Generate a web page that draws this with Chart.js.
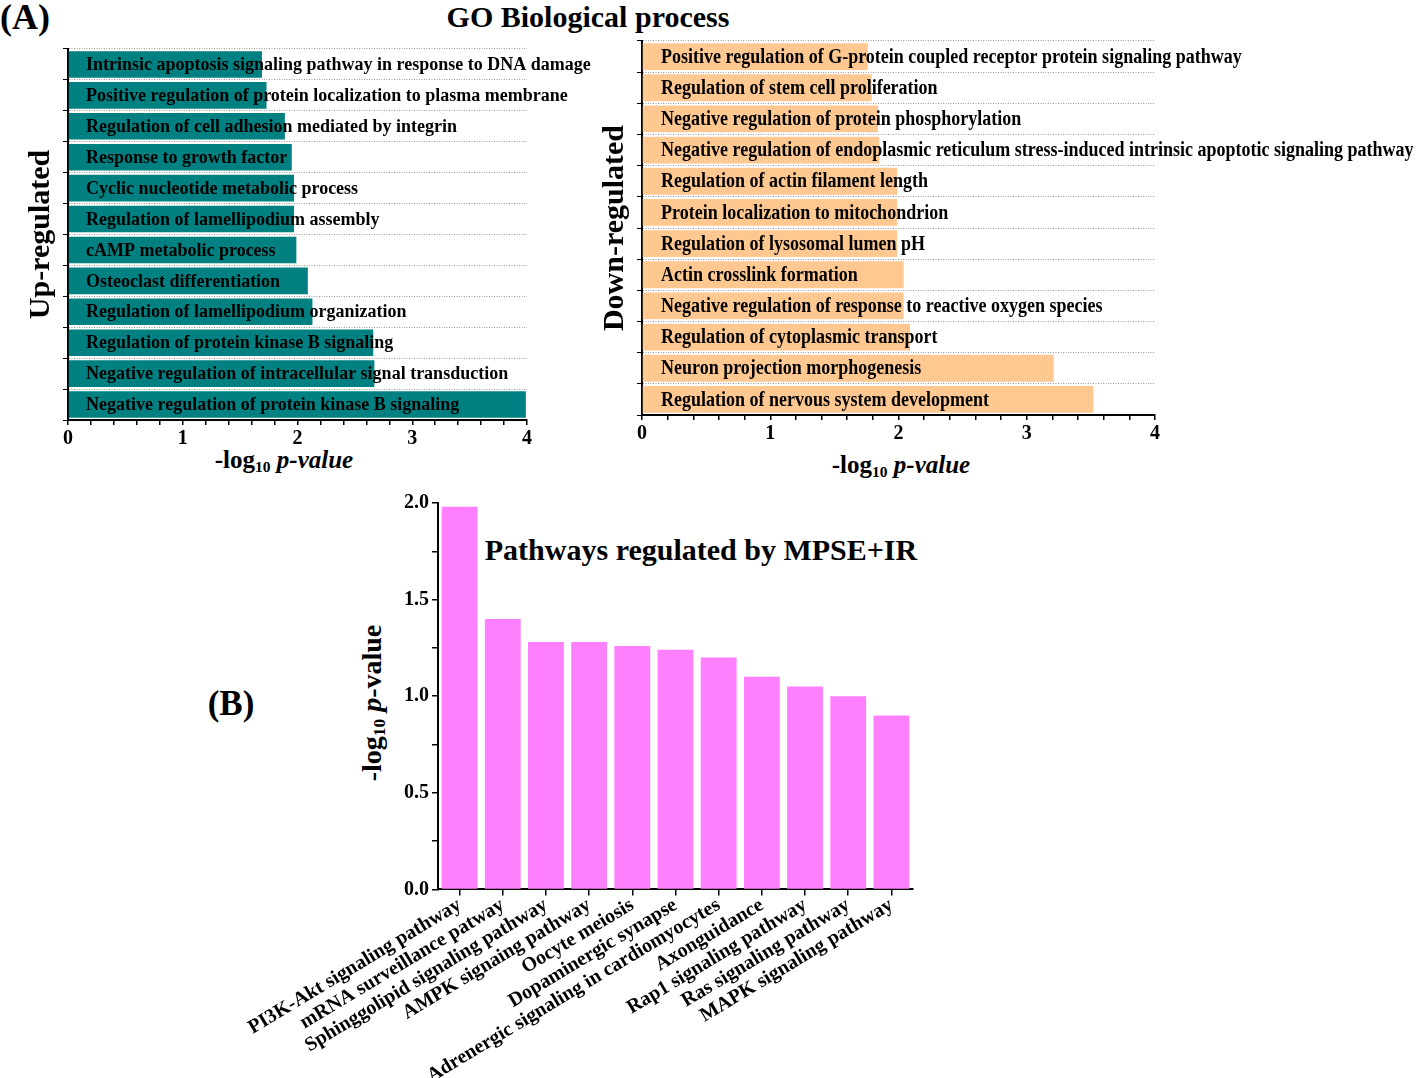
<!DOCTYPE html>
<html>
<head>
<meta charset="utf-8">
<script src="https://cdn.jsdelivr.net/npm/chart.js@4.4.0/dist/chart.umd.min.js"></script>
<style>
  body { margin:0; background:#fff; width:1418px; height:1078px; position:relative; overflow:hidden;
         font-family:"Liberation Serif","Times New Roman",serif; }
  canvas { position:absolute; }
  .txt { position:absolute; font-weight:bold; color:#000; white-space:nowrap; transform:translate(-50%,-50%); line-height:1; }
  .txt sub { font-size:0.62em; vertical-align:-0.25em; }
  .rot { transform:translate(-50%,-50%) rotate(-90deg); }
</style>
</head>
<body>
<div class="txt" style="left:25px;top:17px;font-size:36px">(A)</div>
<div class="txt" style="left:588px;top:17px;font-size:30px">GO Biological process</div>
<div class="txt" style="left:284px;top:461px;font-size:25px">-log<sub>10</sub> <i>p-value</i></div>
<div class="txt" style="left:901px;top:466px;font-size:25px">-log<sub>10</sub> <i>p-value</i></div>
<div class="txt" style="left:231px;top:703px;font-size:35px">(B)</div>
<div class="txt" style="left:701px;top:550px;font-size:30px">Pathways regulated by MPSE+IR</div>
<div class="txt rot" style="left:373px;top:703px;font-size:28px">-log<sub>10</sub> <i>p</i>-value</div>

<canvas id="upChart" width="600" height="457" style="left:0;top:0"></canvas>
<canvas id="downChart" width="838" height="452" style="left:580px;top:0"></canvas>
<canvas id="pathChart" width="740" height="606" style="left:200px;top:480px"></canvas>

<script>
// GO 上调
const upTerms = [
  'Intrinsic apoptosis signaling pathway in response to DNA damage',
  'Positive regulation of protein localization to plasma membrane',
  'Regulation of cell adhesion mediated by integrin',
  'Response to growth factor',
  'Cyclic nucleotide metabolic process',
  'Regulation of lamellipodium assembly',
  'cAMP metabolic process',
  'Osteoclast differentiation',
  'Regulation of lamellipodium organization',
  'Regulation of protein kinase B signaling',
  'Negative regulation of intracellular signal transduction',
  'Negative regulation of protein kinase B signaling'
];
const upValues = [1.69, 1.73, 1.89, 1.95, 1.97, 1.97, 1.99, 2.09, 2.13, 2.66, 2.67, 3.99];

// GO 下调
const downTerms = [
  'Positive regulation of G-protein coupled receptor protein signaling pathway',
  'Regulation of stem cell proliferation',
  'Negative regulation of protein phosphorylation',
  'Negative regulation of endoplasmic reticulum stress-induced intrinsic apoptotic signaling pathway',
  'Regulation of actin filament length',
  'Protein localization to mitochondrion',
  'Regulation of lysosomal lumen pH',
  'Actin crosslink formation',
  'Negative regulation of response to reactive oxygen species',
  'Regulation of cytoplasmic transport',
  'Neuron projection morphogenesis',
  'Regulation of nervous system development'
];
const downValues = [1.76, 1.79, 1.84, 1.85, 1.99, 1.99, 1.99, 2.04, 2.04, 2.09, 3.21, 3.52];

// KEGG 通路
const pathways = [
  'PI3K-Akt signaling pathway',
  'mRNA surveillance patway',
  'Sphinggolipid signaling pathway',
  'AMPK signaing pathway',
  'Oocyte meiosis',
  'Dopaminergic synapse',
  'Adrenergic signaling in cardiomyocytes',
  'Axonguidance',
  'Rap1 signaling pathway',
  'Ras signaling pathway',
  'MAPK signaling pathway'
];
const pathwayValues = [1.98, 1.40, 1.28, 1.28, 1.26, 1.24, 1.20, 1.10, 1.05, 1.00, 0.90];

const goTicks = [0, 1, 2, 3, 4];
const pathTicks = [0.0, 0.5, 1.0, 1.5, 2.0];

const SERIF = '"Liberation Serif","Times New Roman",serif';
const tickFont = { family: SERIF, size: 20, weight: 'bold' };

// 条形内部的文字
const barText = {
  id: 'barText',
  afterDatasetsDraw(chart, args, opts) {
    const ctx = chart.ctx, xs = chart.scales.x;
    const meta = chart.getDatasetMeta(0);
    ctx.save();
    ctx.font = opts.font;
    ctx.fillStyle = '#000';
    ctx.textBaseline = 'middle';
    meta.data.forEach((bar, i) => {
      ctx.save();
      ctx.translate(xs.getPixelForValue(0) + opts.offset, bar.y + 1);
      ctx.scale(opts.squeeze, 1);
      ctx.fillText(chart.data.labels[i], 0, 0);
      ctx.restore();
    });
    ctx.restore();
  }
};

function goChart(id, terms, values, color, yTitle, pad, textOpts) {
  return new Chart(document.getElementById(id), {
    type: 'bar',
    data: { labels: terms, datasets: [{ data: values, backgroundColor: color, barPercentage: 0.86, categoryPercentage: 1 }] },
    options: {
      indexAxis: 'y', responsive: false, animation: false,
      layout: { padding: pad },
      plugins: { legend: { display: false }, tooltip: { enabled: false }, barText: textOpts },
      scales: {
        x: {
          min: 0, max: 4,
          ticks: { stepSize: 0.2, autoSkip: false, maxRotation: 0, color: '#000', font: tickFont, padding: 2,
            callback: v => goTicks.find(t => Math.abs(t - v) < 1e-6) !== undefined ? Math.round(v) : '' },
          grid: { drawOnChartArea: false, color: '#000', tickLength: 5, lineWidth: 1.5 },
          border: { color: '#000', width: 2 }
        },
        y: {
          ticks: { display: false },
          grid: { offset: true, color: '#9a9a9a', tickColor: '#000', tickLength: 5, lineWidth: 1 },
          border: { color: '#000', width: 2, dash: [1, 1.5] },
          title: { display: true, text: yTitle, color: '#000', padding: 4,
            font: { family: SERIF, size: 30, weight: 'bold' } }
        }
      }
    },
    plugins: [barText]
  });
}

goChart('upChart', upTerms, upValues, '#008080', 'Up-regulated',
  { left: 19, top: 49, right: 73, bottom: 4 },
  { font: 'bold 18px ' + SERIF, offset: 18, squeeze: 1 });

goChart('downChart', downTerms, downValues, '#FFC891', 'Down-regulated',
  { left: 13, top: 41, right: 263, bottom: 4 },
  { font: 'bold 20px ' + SERIF, offset: 19, squeeze: 0.9 });

new Chart(document.getElementById('pathChart'), {
  type: 'bar',
  data: { labels: pathways, datasets: [{ data: pathwayValues, backgroundColor: '#FF80FF', barPercentage: 0.83, categoryPercentage: 1 }] },
  options: {
    responsive: false, animation: false,
    layout: { padding: { left: 201, top: 23, right: 27, bottom: 0 } },
    plugins: { legend: { display: false }, tooltip: { enabled: false } },
    scales: {
      x: {
        ticks: { autoSkip: false, minRotation: 31, maxRotation: 31, color: '#000', font: tickFont, padding: -2 },
        grid: { offset: false, drawOnChartArea: false, color: '#000', tickLength: 6, lineWidth: 1.5 },
        border: { color: '#000', width: 2 }
      },
      y: {
        min: 0, max: 2,
        ticks: { stepSize: 0.25, autoSkip: false, color: '#000', font: tickFont, padding: 3,
          callback: v => pathTicks.find(t => Math.abs(t - v) < 1e-6) !== undefined ? v.toFixed(1) : '' },
        grid: { drawOnChartArea: false, color: '#000', tickLength: 6, lineWidth: 1.5 },
        border: { color: '#000', width: 2 }
      }
    }
  }
});
</script>
</body>
</html>
